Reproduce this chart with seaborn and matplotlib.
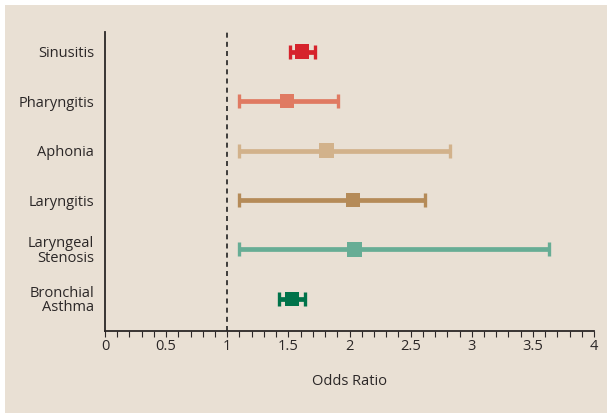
import matplotlib
matplotlib.use("Agg")
import matplotlib.pyplot as plt
import seaborn as sns
import pandas as pd
import numpy as np
from matplotlib.patches import Rectangle
from matplotlib.ticker import MultipleLocator

conditions = ["Sinusitis", "Pharyngitis", "Aphonia", "Laryngitis",
              "Laryngeal\nStenosis", "Bronchial\nAsthma"]
odds_ratio = [1.61, 1.49, 1.81, 2.03, 2.04, 1.53]
ci_low = [1.51, 1.10, 1.10, 1.10, 1.10, 1.42]
ci_high = [1.72, 1.91, 2.82, 2.62, 3.63, 1.64]
colors = ["#d6232c", "#e07a62", "#d2b28b", "#b58b58", "#67ad95", "#00734a"]
xticks = [0, 0.5, 1, 1.5, 2, 2.5, 3, 3.5, 4]
xticklabels = ["0", "0.5", "1", "1.5", "2", "2.5", "3", "3.5", "4"]

bg = "#e9e0d4"
ink = "#2b2727"

sns.set_theme(style="white")
plt.rcParams['font.family'] = ['Open Sans', 'DejaVu Sans']

fig = plt.figure(figsize=(6.07, 4.13), dpi=100, facecolor="white")
fig.patches.append(Rectangle((5/607, 0), 1 - 5/607, 1 - 5/413,
                             transform=fig.transFigure, facecolor=bg,
                             edgecolor="none", zorder=-10))
ax = fig.add_axes([105/607, 1 - 331/413, (594 - 105)/607, (331 - 32)/413])
ax.set_facecolor("none")

df = pd.DataFrame({"condition": conditions, "OR": odds_ratio,
                   "lo": ci_low, "hi": ci_high, "pos": np.arange(len(conditions))})

for i, row in df.iterrows():
    ax.errorbar([row.OR], [row.pos],
                xerr=[[row.OR - row.lo], [row.hi - row.OR]],
                fmt="none", ecolor=colors[i], elinewidth=3.4,
                capsize=5, capthick=2.4, zorder=3)

sns.scatterplot(data=df, x="OR", y="pos", hue="condition", palette=colors,
                marker="s", s=110, edgecolor="none", legend=False, ax=ax, zorder=4)

ax.axvline(1, color="#222222", linestyle=(0, (3, 2.5)), linewidth=1.2, zorder=2)

ax.set_xlim(0, 4)
ax.set_ylim(5.65, -0.4)
ax.set_yticks(df["pos"])
ax.set_yticklabels(conditions, fontsize=10.5, color=ink, linespacing=0.95)
for lab in ax.get_yticklabels():
    lab.set_multialignment("right")
ax.set_xticks(xticks)
ax.set_xticklabels(xticklabels, fontsize=10.5, color=ink)
ax.xaxis.set_minor_locator(MultipleLocator(0.1))
ax.tick_params(axis="x", which="both", direction="out", length=4.5, width=0.8,
               color=ink, bottom=True, pad=1)
ax.tick_params(axis="y", length=0, pad=8)
ax.set_xlabel("Odds Ratio", fontsize=10.5, color=ink, labelpad=15)
ax.set_ylabel("")

for s in ["top", "right"]:
    ax.spines[s].set_visible(False)
for s in ["left", "bottom"]:
    ax.spines[s].set_color(ink)
    ax.spines[s].set_linewidth(1.3)

fig.savefig("out.png", dpi=100, facecolor=fig.get_facecolor())
